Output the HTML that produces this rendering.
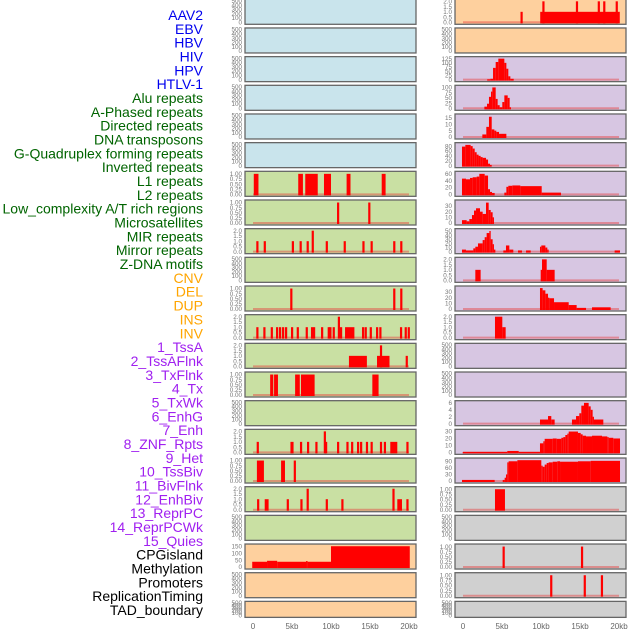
<!DOCTYPE html>
<html><head><meta charset="utf-8"><style>
html,body{margin:0;padding:0;background:#fff;}
svg{display:block;font-family:"Liberation Sans",sans-serif;}
</style></head><body>
<svg id="chart" width="630" height="630" viewBox="0 0 630 630"></svg>
<script>
const rowLabels=["AAV2","EBV","HBV","HIV","HPV","HTLV-1","Alu repeats","A-Phased repeats","Directed repeats","DNA transposons","G-Quadruplex forming repeats","Inverted repeats","L1 repeats","L2 repeats","Low_complexity A/T rich regions","Microsatellites","MIR repeats","Mirror repeats","Z-DNA motifs","CNV","DEL","DUP","INS","INV","1_TssA","2_TssAFlnk","3_TxFlnk","4_Tx","5_TxWk","6_EnhG","7_Enh","8_ZNF_Rpts","9_Het","10_TssBiv","11_BivFlnk","12_EnhBiv","13_ReprPC","14_ReprPCWk","15_Quies","CPGisland","Methylation","Promoters","ReplicationTiming","TAD_boundary"];
const rowLabelGroups=[6,13,5,15,5];
const groupColors=["#0000ee","#006400","#ffa500","#a020f0","#000000"];
const xTickValues=[0,5,10,15,20];
const xTickLabels=["0","5kb","10kb","15kb","20kb"];

const leftL1=[[0.1,0.7,1],[5.8,6.4,1],[6.7,8.3,1],[9.1,10.0,1],[12.0,12.5,1],[16.5,17.0,1]];
const leftRow7Spikes=[[10.9,1],[14.9,1]];
const leftRow8Spikes=[[0.55,1],[1.5,1],[5.1,1],[6.1,1],[7.0,1],[7.65,2],[9.45,1],[11.75,1],[14.15,1],[15.2,1],[18.1,1],[19.0,1]];
const leftRow10Spikes=[[4.9,1],[18.1,1],[19.0,1]];
const leftRow11Spikes=[[0.55,1],[1.45,1],[2.4,1],[3.08,1],[3.46,1],[3.85,1],[4.23,1],[5.0,1],[5.73,1],[6.88,1],[7.56,1],[7.82,1],[8.85,1],[9.7,1],[9.91,1],[10.34,1],[11.0,2],[11.28,1],[14.1,1],[14.44,1],[15.09,1],[15.9,1],[16.32,1],[18.97,1],[19.57,1],[19.96,1]];
const leftRow11Segs=[[11.8,13.0,1]];
const leftRow12Segs=[[12.3,14.6,1],[15.9,17.5,1]];
const leftRow12Spikes=[[16.4,2],[19.7,1]];
const leftRow13Segs=[[2.2,2.6,1],[2.7,3.2,1],[5.4,6.0,1],[6.15,7.9,1],[15.3,16.1,1]];
const leftRow15Segs=[[4.8,5.2,1],[17.6,18.5,1]];
const leftRow15Spikes=[[0.6,1],[6.15,1],[7.05,1],[8.12,1],[9.2,2],[9.36,1],[10.9,1],[12.1,1],[12.7,1],[13.46,1],[13.85,1],[14.6,1],[15.2,1],[16.4,1],[16.9,1],[19.79,1]];
const leftRow16Segs=[[0.5,1.4,1],[3.6,4.1,1]];
const leftRow16Spikes=[[5.35,1]];
const leftRow17Segs=[[1.5,2.0,1],[18.5,19.1,1]];
const leftRow17Spikes=[[0.65,1],[4.45,1],[6.2,1],[7.0,2],[9.45,1],[11.45,1],[18.0,2],[19.79,1]];
const leftCpg=[[-0.1,1.8,38],[1.8,3.1,45],[3.1,6.8,38],[6.8,7.0,43],[7.0,10.0,38],[10.0,20.1,150]];

const rightRow0Segs=[[9.9,20.1,1]];
const rightRow0Spikes=[[7.5,1],[10.3,2],[14.6,2],[17.4,2],[18.1,2],[19.7,2]];
const rightRow2=[[3.1,3.5,2],[3.5,3.85,5],[3.85,4.19,70],[4.19,4.53,105],[4.53,5.3,125],[5.3,5.56,100],[5.56,5.81,65],[5.81,6.07,20],[6.07,6.5,5]];
const rightRow3=[[2.74,3.08,8],[3.08,3.33,22],[3.33,3.59,55],[3.59,3.76,80],[3.76,4.19,100],[4.19,4.44,45],[4.44,4.7,15],[4.7,5.04,5],[5.04,5.3,30],[5.3,5.73,62],[5.73,5.98,50],[5.98,6.15,5]];
const rightRow4=[[2.48,2.99,2],[2.99,3.33,8],[3.33,3.68,16],[3.68,4.02,6],[4.02,4.27,5],[4.27,4.62,4],[4.62,5.56,2.5]];
const rightRow5=[[-0.13,0.3,78],[0.3,0.98,85],[0.98,1.24,80],[1.24,1.5,70],[1.5,1.75,55],[1.75,2.0,45],[2.0,2.26,40],[2.26,2.52,35],[2.52,2.95,32],[2.95,3.21,25],[3.21,3.46,8],[3.46,3.68,3]];
const rightRow6=[[-0.13,0.38,46],[0.38,0.9,44],[0.9,1.24,48],[1.24,1.75,50],[1.75,2.09,52],[2.09,2.78,60],[2.78,3.21,55],[3.21,3.46,15],[3.46,3.72,7],[3.72,4.06,4],[5.3,5.56,5],[5.56,5.81,22],[5.81,6.32,25],[6.32,7.35,26],[7.35,10.09,24],[10.09,12.56,5]];
const rightRow7=[[-0.13,0.47,5],[0.47,0.81,3],[0.81,1.15,7],[1.15,1.41,14],[1.41,1.67,22],[1.67,2.18,26],[2.18,2.52,20],[2.52,2.95,16],[2.95,3.29,36],[3.29,3.55,23],[3.55,3.8,19],[3.8,3.97,10]];
const rightRow8=[[-0.13,0.38,5],[0.38,1.32,3],[1.32,1.58,8],[1.58,1.92,12],[1.92,2.52,20],[2.52,2.78,28],[2.78,3.03,35],[3.03,3.38,45],[3.38,3.55,50],[3.55,3.8,30],[3.8,3.97,18],[3.97,4.15,5],[5.17,5.51,3],[5.51,5.94,15],[5.94,6.45,5],[7.05,7.56,3],[8.08,8.68,3],[9.87,10.04,12],[10.04,10.56,15],[10.56,10.81,10],[10.81,10.98,5],[19.44,20.13,3]];
const rightRow9=[[1.58,2.26,1],[9.96,10.13,1],[10.13,10.73,2],[10.73,11.75,1]];
const rightRow10=[[9.87,10.21,37],[10.21,10.56,33],[10.56,10.9,27],[10.9,11.07,20],[11.07,11.67,19],[11.67,13.55,12],[13.55,14.57,7],[14.57,15.77,2],[16.54,18.93,3]];
const rightRow11=[[4.1,5.04,2],[5.04,5.47,1]];
const rightRow14=[[9.87,10.9,1.2],[10.9,11.32,2.2],[11.32,11.75,1.2],[13.97,14.49,1.2],[14.49,14.91,2.2],[14.91,15.17,3],[15.17,15.51,5.2],[15.51,16.11,6],[16.11,16.37,5],[16.37,16.62,4],[16.62,16.79,2],[16.79,17.99,1.2]];
const rightRow15=[[-0.04,5.68,0.5],[5.68,7.14,2],[7.14,9.87,0.5],[9.87,10.3,13],[10.3,10.47,16],[10.47,11.5,19.5],[11.5,12.01,20],[12.01,12.61,19.5],[12.61,12.86,21],[12.86,13.12,22],[13.12,13.38,25],[13.38,13.55,27],[13.55,14.74,30],[14.74,15.09,28],[15.09,15.34,26],[15.34,15.77,24],[15.77,16.54,23],[16.54,17.82,24],[17.82,18.5,23],[18.5,18.68,22],[18.68,19.27,21],[19.27,20.13,20]];
const rightRow16=[[-0.13,4.06,5],[5.09,5.34,5],[5.34,5.51,15],[5.51,5.68,30],[5.68,5.85,85],[5.85,6.97,90],[6.97,10.04,95],[10.04,10.21,70],[10.21,10.47,65],[10.47,10.73,75],[10.73,10.98,82],[10.98,11.5,85],[11.5,12.09,88],[12.09,12.44,90],[12.44,14.74,88],[14.74,16.37,90],[16.37,20.13,92]];
const rightRow17=[[4.1,5.38,1]];
const rightRow19Spikes=[[5.2,1],[15.25,1]];
const rightRow20Spikes=[[11.3,1],[15.6,1],[17.8,1]];

const T500=[[0,"0"],[100,"100"],[200,"200"],[300,"300"],[400,"400"],[500,"500"]];
const T1=[[0,"0.00"],[0.25,"0.25"],[0.5,"0.50"],[0.75,"0.75"],[1,"1.00"]];
const T2=[[0,"0.0"],[0.5,"0.5"],[1,"1.0"],[1.5,"1.5"],[2,"2.0"]];
const C={blue:"#c9e4ec",green:"#c9e0a3",orange:"#fed09e",purple:"#d7c6e2",grey:"#d0d0d0"};
function tk(a){return a.map(v=>[v,String(v)]);}
const E={ymax:500,ticks:T500,segs:[],spikes:[],empty:true};
const leftPanels=[];
for(let i=0;i<6;i++)leftPanels.push(Object.assign({bg:C.blue},E));
leftPanels.push({bg:C.green,ymax:1.05,ticks:T1,segs:leftL1,spikes:[]});
leftPanels.push({bg:C.green,ymax:1.05,ticks:T1,segs:[],spikes:leftRow7Spikes});
leftPanels.push({bg:C.green,ymax:2.05,ticks:T2,segs:[],spikes:leftRow8Spikes});
leftPanels.push(Object.assign({bg:C.green},E));
leftPanels.push({bg:C.green,ymax:1.05,ticks:T1,segs:[],spikes:leftRow10Spikes});
leftPanels.push({bg:C.green,ymax:2.05,ticks:T2,segs:leftRow11Segs,spikes:leftRow11Spikes});
leftPanels.push({bg:C.green,ymax:2.05,ticks:T2,segs:leftRow12Segs,spikes:leftRow12Spikes});
leftPanels.push({bg:C.green,ymax:1.05,ticks:T1,segs:leftRow13Segs,spikes:[]});
leftPanels.push(Object.assign({bg:C.green},E));
leftPanels.push({bg:C.green,ymax:2.05,ticks:T2,segs:leftRow15Segs,spikes:leftRow15Spikes});
leftPanels.push({bg:C.green,ymax:1.05,ticks:T1,segs:leftRow16Segs,spikes:leftRow16Spikes});
leftPanels.push({bg:C.green,ymax:2.05,ticks:T2,segs:leftRow17Segs,spikes:leftRow17Spikes});
leftPanels.push(Object.assign({bg:C.green},E));
leftPanels.push({bg:C.orange,ymax:155,ticks:tk([0,50,100,150]),segs:leftCpg,spikes:[]});
leftPanels.push(Object.assign({bg:C.orange},E));
leftPanels.push(Object.assign({bg:C.orange},E));

const rightPanels=[];
rightPanels.push({bg:C.orange,ymax:2.05,ticks:T2,segs:rightRow0Segs,spikes:rightRow0Spikes});
rightPanels.push(Object.assign({bg:C.orange},E));
rightPanels.push({bg:C.purple,ymax:128,ticks:tk([0,25,50,75,100,125]),segs:rightRow2,spikes:[]});
rightPanels.push({bg:C.purple,ymax:103,ticks:tk([0,25,50,75,100]),segs:rightRow3,spikes:[]});
rightPanels.push({bg:C.purple,ymax:17,ticks:tk([0,5,10,15]),segs:rightRow4,spikes:[]});
rightPanels.push({bg:C.purple,ymax:88,ticks:tk([0,20,40,60,80]),segs:rightRow5,spikes:[]});
rightPanels.push({bg:C.purple,ymax:63,ticks:tk([0,20,40,60]),segs:rightRow6,spikes:[]});
rightPanels.push({bg:C.purple,ymax:38,ticks:tk([0,10,20,30]),segs:rightRow7,spikes:[]});
rightPanels.push({bg:C.purple,ymax:52,ticks:tk([0,10,20,30,40,50]),segs:rightRow8,spikes:[]});
rightPanels.push({bg:C.purple,ymax:2.05,ticks:T2,segs:rightRow9,spikes:[]});
rightPanels.push({bg:C.purple,ymax:38,ticks:tk([0,10,20,30]),segs:rightRow10,spikes:[]});
rightPanels.push({bg:C.purple,ymax:2.05,ticks:T2,segs:rightRow11,spikes:[]});
rightPanels.push(Object.assign({bg:C.purple},E));
rightPanels.push(Object.assign({bg:C.purple},E));
rightPanels.push({bg:C.purple,ymax:6.2,ticks:tk([0,2,4,6]),segs:rightRow14,spikes:[]});
rightPanels.push({bg:C.purple,ymax:31,ticks:tk([0,10,20,30]),segs:rightRow15,spikes:[]});
rightPanels.push({bg:C.purple,ymax:98,ticks:tk([0,30,60,90]),segs:rightRow16,spikes:[]});
rightPanels.push({bg:C.grey,ymax:1.05,ticks:T1,segs:rightRow17,spikes:[]});
rightPanels.push(Object.assign({bg:C.grey},E));
rightPanels.push({bg:C.grey,ymax:1.05,ticks:T1,segs:[],spikes:rightRow19Spikes});
rightPanels.push({bg:C.grey,ymax:1.05,ticks:T1,segs:[],spikes:rightRow20Spikes});
rightPanels.push(Object.assign({bg:C.grey},E));

const NS="http://www.w3.org/2000/svg";
const svg=document.getElementById("chart");
function mk(tag,attrs,parent){const e=document.createElementNS(NS,tag);for(const k in attrs)e.setAttribute(k,attrs[k]);(parent||svg).appendChild(e);return e;}

let li=0;
const labelStep=(610-15)/(rowLabels.length-1);
rowLabelGroups.forEach((n,g)=>{for(let k=0;k<n;k++){const t=mk("text",{x:203,y:15+li*labelStep+5,"text-anchor":"end","font-size":"14",fill:groupColors[g]});t.textContent=rowLabels[li];


li++;}});

const cols=[{x0:245,x1:416,kb0:253,kb20:409,panels:leftPanels,name:"left"},{x0:455,x1:626,kb0:463,kb20:619,panels:rightPanels,name:"right"}];
cols.forEach(col=>{
  const xs=kb=>col.kb0+kb*(col.kb20-col.kb0)/20;
  col.panels.forEach((p,i)=>{
    const top=-0.7+i*28.67, h=(i===21)?16:25;
    const g=mk("g",{});
    
    
    mk("rect",{x:col.x0,y:top,width:col.x1-col.x0,height:h,fill:p.bg,stroke:"#666","stroke-width":1.3},g);
    const pb=top+h-2, pt=top+1.5;
    const ys=v=>pb-v/p.ymax*(pb-pt);
    p.ticks.forEach(([v,l])=>{const t=mk("text",{x:col.x0-3,y:ys(v)+2.2,"text-anchor":"end","font-size":"6.3",fill:"#777"},g);t.textContent=l;
      
      });
    if(!p.empty) mk("line",{x1:xs(0),x2:xs(20),y1:pb,y2:pb,stroke:"rgba(230,60,60,0.45)","stroke-width":2},g);
    p.segs.forEach(([a,b,v])=>{const r=mk("rect",{x:xs(a),y:ys(v),width:Math.max(1,xs(b)-xs(a)),height:pb-ys(v)+1,fill:"#ff0000"},g);
      
      });
    p.spikes.forEach(([a,v])=>{const r=mk("rect",{x:xs(a)-1,y:ys(v),width:2.2,height:pb-ys(v)+1,fill:"#ff0000"},g);
      
      });
  });
  xTickValues.forEach((v,k)=>{const t=mk("text",{x:xs(v),y:629,"text-anchor":"middle","font-size":"8",fill:"#666"});t.textContent=xTickLabels[k];
    
    });
});
</script>
</body></html>
